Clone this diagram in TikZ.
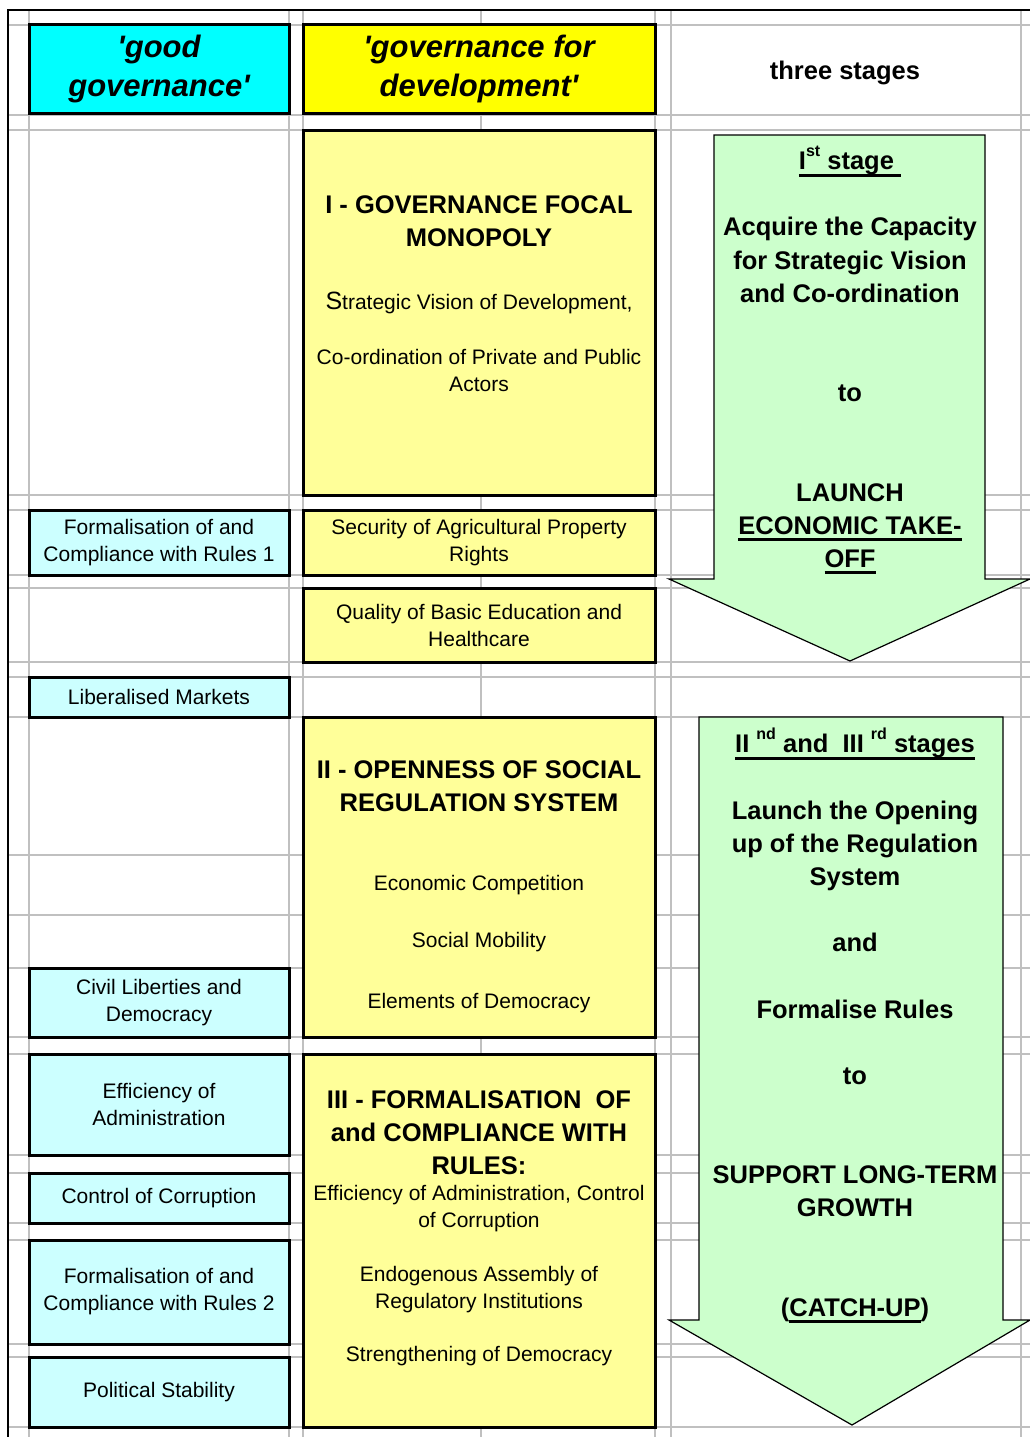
\documentclass[tikz,border=0pt]{standalone}
\usepackage{fontspec}
\setmainfont{Liberation Sans}
\definecolor{gridgray}{HTML}{C0C0C0}
\definecolor{headcyan}{HTML}{00FFFF}
\definecolor{headyellow}{HTML}{FFFF00}
\definecolor{palecyan}{HTML}{CCFFFF}
\definecolor{paleyellow}{HTML}{FFFF99}
\definecolor{palegreen}{HTML}{CCFFCC}
\newsavebox{\ulbox}
\newcommand{\ulbar}[1]{\sbox{\ulbox}{#1}\rlap{\rule[-7pt]{\wd\ulbox}{3pt}}\usebox{\ulbox}}
\newcommand{\ordsup}[1]{\raisebox{13pt}{\fontsize{16}{16}\selectfont #1}}
\tikzset{
  gridline/.style={draw=gridgray, line width=2pt},
  cellbox/.style={draw=black, line width=3pt, inner sep=0pt, outer sep=0pt, align=center, anchor=north west, font=\fontsize{21}{27}\selectfont},
  cbox/.style={cellbox, fill=palecyan},
  ybox/.style={cellbox, fill=paleyellow},
  headbox/.style={cellbox, font=\fontsize{31}{39}\selectfont\bfseries\itshape},
  bodytext/.style={inner sep=0pt, align=center, anchor=north, font=\fontsize{21}{27}\selectfont},
  titletext/.style={inner sep=0pt, align=center, anchor=north, font=\fontsize{25.5}{33.15}\selectfont\bfseries},
  stagearrow/.style={draw=black, line width=1.2pt, fill=palegreen, line join=miter}
}
\begin{document}
\begin{tikzpicture}[x=1pt, y=-1pt]
  \useasboundingbox (0,0) rectangle (1030,1437);

  % Grid
  \foreach \gx in {29,289,303,481,655,671,1021}
    \draw[gridline] (\gx,10) -- (\gx,1437);
  \foreach \gy in {25,115,130,495,510,575,588,662,677,717,855,915,968,1037,1054,1155,1173,1223,1240,1344,1357,1427}
    \draw[gridline] (8,\gy) -- (1030,\gy);

  % Headers
  \node[headbox, fill=headcyan, minimum width=260, minimum height=88] (goodgov) at (29,25) {\textquotesingle good\\governance\textquotesingle};
  \node[headbox, fill=headyellow, minimum width=352, minimum height=88] (devgov) at (303,25) {\textquotesingle governance for\\development\textquotesingle};
  \node[titletext, anchor=center] (stages) at (845,73) {three stages};

  % Column 1
  \node[cbox, minimum width=260, minimum height=65] (rulesA) at (29,510) {Formalisation of and\\Compliance with Rules 1};
  \node[cbox, minimum width=260, minimum height=40] (markets) at (29,677) {Liberalised Markets};
  \node[cbox, minimum width=260, minimum height=69] (liberties) at (29,968) {Civil Liberties and\\Democracy};
  \node[cbox, minimum width=260, minimum height=101] (admin) at (29,1054) {Efficiency of\\Administration};
  \node[cbox, minimum width=260, minimum height=50] (corruption) at (29,1173) {Control of Corruption};
  \node[cbox, minimum width=260, minimum height=104] (rulesB) at (29,1240) {Formalisation of and\\Compliance with Rules 2};
  \node[cbox, minimum width=260, minimum height=70] (stability) at (29,1357) {Political Stability};

  % Column 2
  \node[ybox, minimum width=352, minimum height=365] (focal) at (303,130) {};
  \node[titletext] (focaltitle) at (479,190) {\strut I - GOVERNANCE FOCAL\\MONOPOLY};
  \node[bodytext] (focalbody) at (479,290.6) {\strut{\fontsize{25}{27}\selectfont S}trategic Vision of Development,\\[28pt]Co-ordination of Private and Public\\Actors};
  \node[ybox, minimum width=352, minimum height=65] (agri) at (303,510) {Security of Agricultural Property\\Rights};
  \node[ybox, minimum width=352, minimum height=74] (educ) at (303,588) {Quality of Basic Education and\\Healthcare};
  \node[ybox, minimum width=352, minimum height=320] (openness) at (303,717) {};
  \node[titletext] (opentitle) at (479,755) {\strut II - OPENNESS OF SOCIAL\\REGULATION SYSTEM};
  \node[bodytext] (openbody) at (479,871.6) {\strut Economic Competition\\[30pt]Social Mobility\\[34pt]Elements of Democracy};
  \node[ybox, minimum width=352, minimum height=373] (formal) at (303,1054) {};
  \node[titletext] (formaltitle) at (479,1085) {\strut III - FORMALISATION\ \ OF\\and COMPLIANCE WITH\\RULES:};
  \node[bodytext] (formalbody) at (479,1181.6) {\strut Efficiency of Administration, Control\\of Corruption\\[27pt]Endogenous Assembly of\\Regulatory Institutions\\[26pt]Strengthening of Democracy};

  % Stage arrows
  \draw[stagearrow] (714,135) -- (985,135) -- (985,579) -- (1030,579) -- (850,661) -- (669,579) -- (714,579) -- cycle;
  \node[titletext] (stageone) at (850,146) {\strut\ulbar{I\ordsup{st} stage\ }\\[33.15pt]Acquire the Capacity\\for Strategic Vision\\and Co-ordination\\[66.3pt]to\\[66.3pt]LAUNCH\\\ulbar{ECONOMIC TAKE-}\\\ulbar{OFF}};
  \draw[stagearrow] (699,717) -- (1003,717) -- (1003,1320) -- (1030,1320) -- (852,1425) -- (669,1320) -- (699,1320) -- cycle;
  \node[titletext] (stagetwo) at (855,728) {\strut\ulbar{II \ordsup{nd} and\ \ III \ordsup{rd} stages}\\[33.15pt]Launch the Opening\\up of the Regulation\\System\\[33.15pt]and\\[33.15pt]Formalise Rules\\[33.15pt]to\\[66.3pt]SUPPORT LONG-TERM\\GROWTH\\[66.3pt](\ulbar{CATCH-UP})};

  % Frame
  \draw[line width=2.5pt] (1030,10) -- (8,10) -- (8,1437);
\end{tikzpicture}
\end{document}
